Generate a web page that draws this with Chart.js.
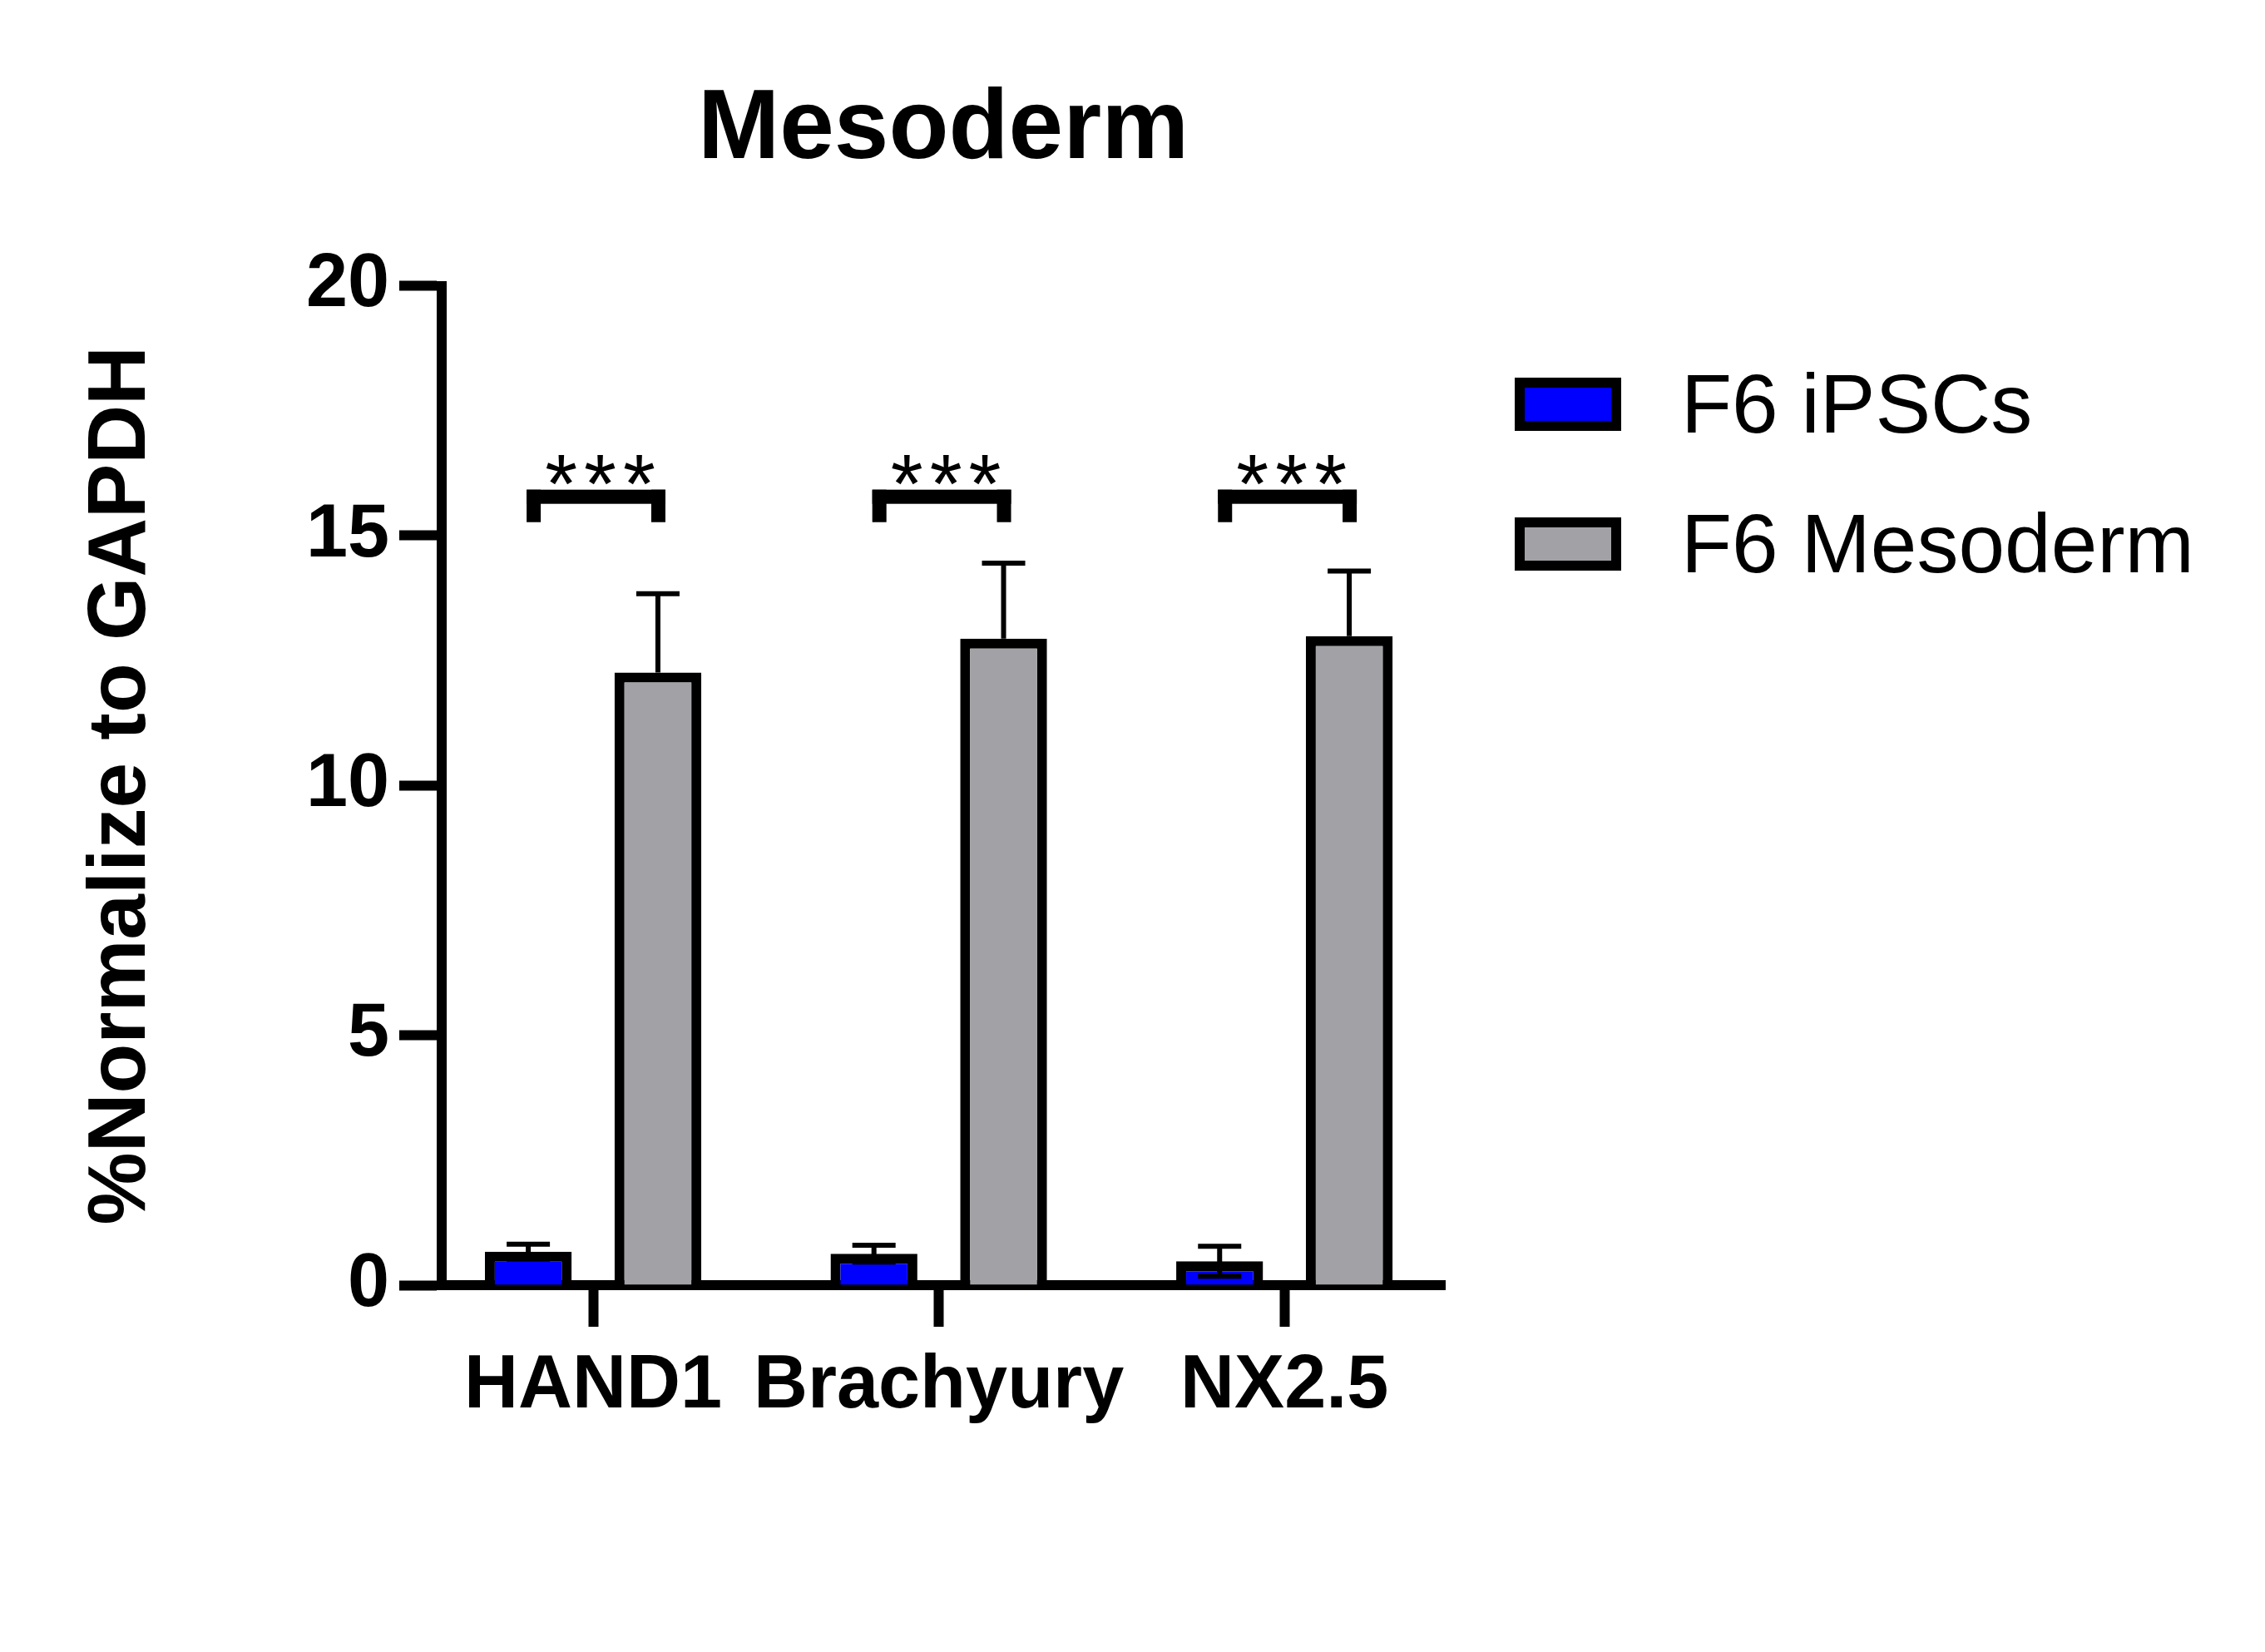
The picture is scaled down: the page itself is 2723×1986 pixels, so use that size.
<!DOCTYPE html>
<html>
<head>
<meta charset="utf-8">
<title>Mesoderm</title>
<script src="https://cdn.jsdelivr.net/npm/chart.js@4.4.1/dist/chart.umd.min.js"></script>
<style>
  html, body { margin: 0; padding: 0; background: #fff; }
  canvas { display: block; }
</style>
</head>
<body>
<canvas id="myChart" width="2723" height="1986"></canvas>
<script>
const genes = ['HAND1', 'Brachyury', 'NX2.5'];
const xPositions = [1, 2, 3];
const seriesNames = ['F6 iPSCs', 'F6 Mesoderm'];
const ipscMeans = [0.67, 0.63, 0.48];
const ipscErrors = [0.15, 0.17, 0.30];
const mesodermMeans = [12.26, 12.94, 12.99];
const mesodermErrors = [1.58, 1.51, 1.30];
const yTicks = [0, 5, 10, 15, 20];
const significance = ['***', '***', '***'];
const bracketTop = [15.92, 15.92, 15.92];
const bracketFoot = [15.27, 15.27, 15.27];
const starLevel = [15.47, 15.47, 15.47];

const FONT = '"Liberation Sans", Arial, Helvetica, sans-serif';
Chart.defaults.font.family = FONT;
Chart.defaults.color = '#000';

const toPoints = (means) => means.map((v, i) => ({ x: xPositions[i], y: v }));

// error bars: mesoderm only upwards, iPSCs both ways (as in the figure)
const errorBars = {
  id: 'errorBars',
  afterDatasetsDraw(chart) {
    const ctx = chart.ctx;
    const yScale = chart.scales.y;
    ctx.save();
    ctx.strokeStyle = '#000';
    ctx.lineWidth = 6;
    chart.data.datasets.forEach((ds, i) => {
      const meta = chart.getDatasetMeta(i);
      meta.data.forEach((bar, j) => {
        const mean = ds.data[j].y;
        const err = ds.errors[j];
        const top = yScale.getPixelForValue(mean + err);
        const low = yScale.getPixelForValue(ds.bothWays ? mean - err : mean);
        ctx.beginPath();
        ctx.moveTo(bar.x, low);
        ctx.lineTo(bar.x, top);
        ctx.moveTo(bar.x - 26, top);
        ctx.lineTo(bar.x + 26, top);
        if (ds.bothWays) {
          ctx.moveTo(bar.x - 26, low);
          ctx.lineTo(bar.x + 26, low);
        }
        ctx.stroke();
      });
    });
    ctx.restore();
  }
};

const brackets = {
  id: 'brackets',
  afterDatasetsDraw(chart) {
    const ctx = chart.ctx;
    const yScale = chart.scales.y;
    const left = chart.getDatasetMeta(0).data;
    const right = chart.getDatasetMeta(1).data;
    ctx.save();
    ctx.fillStyle = '#000';
    significance.forEach((label, j) => {
      const x1 = left[j].x - 2;
      const x2 = right[j].x + 9;
      const yTop = yScale.getPixelForValue(bracketTop[j]);
      const yFoot = yScale.getPixelForValue(bracketFoot[j]);
      ctx.fillRect(x1, yTop, x2 - x1, 17);
      ctx.fillRect(x1, yTop, 17, yFoot - yTop);
      ctx.fillRect(x2 - 17, yTop, 17, yFoot - yTop);
      ctx.font = '100px ' + FONT;
      ctx.letterSpacing = '8px';
      ctx.textAlign = 'center';
      ctx.textBaseline = 'alphabetic';
      ctx.fillText(label, (x1 + x2) / 2 + 9, yScale.getPixelForValue(starLevel[j]));
    });
    ctx.restore();
  }
};

const sideLegend = {
  id: 'sideLegend',
  afterDraw(chart) {
    const ctx = chart.ctx;
    ctx.save();
    chart.data.datasets.forEach((ds, i) => {
      const top = 460 + i * 168;
      ctx.fillStyle = ds.backgroundColor;
      ctx.fillRect(1827, top, 116, 52);
      ctx.lineWidth = 12;
      ctx.strokeStyle = '#000';
      ctx.strokeRect(1827, top, 116, 52);
      ctx.fillStyle = '#000';
      ctx.font = '100px ' + FONT;
      ctx.textAlign = 'left';
      ctx.textBaseline = 'middle';
      ctx.fillText(ds.label, 2021, top + 32);
    });
    ctx.restore();
  }
};

const ctx = document.getElementById('myChart');
const myChart = new Chart(ctx, {
  type: 'bar',
  data: {
    datasets: [
      {
        label: seriesNames[0],
        data: toPoints(ipscMeans),
        errors: ipscErrors,
        bothWays: true,
        backgroundColor: '#0000ff',
        borderColor: '#000',
        borderWidth: 12
      },
      {
        label: seriesNames[1],
        data: toPoints(mesodermMeans),
        errors: mesodermErrors,
        bothWays: false,
        backgroundColor: '#a2a1a6',
        borderColor: '#000',
        borderWidth: 12
      }
    ]
  },
  options: {
    responsive: false,
    animation: false,
    events: [],
    categoryPercentage: 0.75,
    barPercentage: 0.67,
    layout: { padding: { left: 60, right: 986, top: 0, bottom: 0 } },
    plugins: {
      legend: { display: false },
      tooltip: { enabled: false },
      title: {
        display: true,
        text: 'Mesoderm',
        fullSize: false,
        color: '#000',
        font: { size: 118, weight: 'bold', family: FONT },
        padding: { top: 87, bottom: 115 }
      }
    },
    scales: {
      x: {
        type: 'linear',
        min: 0.562,
        max: 3.464,
        offset: false,
        z: 1,
        afterBuildTicks: (s) => { s.ticks = xPositions.map(v => ({ value: v })); },
        afterFit: (s) => { s.height = 441; },
        grid: { offset: false, drawOnChartArea: false, drawTicks: true, tickLength: 50, tickWidth: 12, color: '#000' },
        border: { display: true, width: 12, color: '#000' },
        ticks: {
          callback: (v, i) => genes[i],
          autoSkip: false,
          maxRotation: 0,
          padding: 18,
          color: '#000',
          font: { size: 90, weight: 'bold', family: FONT }
        }
      },
      y: {
        min: 0,
        max: 20,
        afterBuildTicks: (s) => { s.ticks = yTicks.map(v => ({ value: v })); },
        afterFit: (s) => { s.width = 471; },
        grid: { drawOnChartArea: false, drawTicks: true, tickLength: 51, tickWidth: 12, color: '#000' },
        border: { display: true, width: 12, color: '#000' },
        ticks: {
          padding: 12,
          color: '#000',
          font: { size: 90, weight: 'bold', family: FONT }
        },
        title: {
          display: true,
          text: '%Normalize to GAPDH',
          color: '#000',
          font: { size: 98, weight: 'bold', family: FONT },
          padding: { top: 28, bottom: 0 }
        }
      }
    }
  },
  plugins: [errorBars, brackets, sideLegend]
});
</script>
</body>
</html>
